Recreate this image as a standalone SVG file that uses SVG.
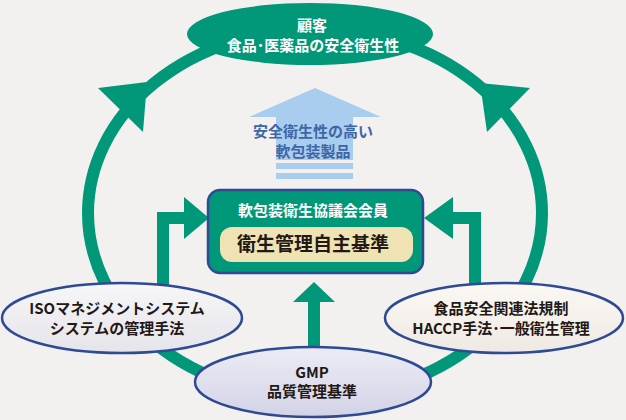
<svg xmlns="http://www.w3.org/2000/svg" width="626" height="420" viewBox="0 0 626 420">
<defs>
<style>
.jp{font-family:"Noto Sans CJK JP","Noto Sans",sans-serif;font-weight:bold;text-anchor:middle}
.wt{fill:#ffffff;font-size:15px}
.dk{fill:#231815;font-size:15px}
.bl{fill:#3d66a5;font-size:15px}
.grn{fill:#009878}
.node{stroke:#2f4a94;stroke-width:2.5}
</style>
<linearGradient id="gIso" x1="0" y1="0" x2="0" y2="1"><stop offset="0" stop-color="#f7f7f8"/><stop offset="1" stop-color="#e4e4ea"/></linearGradient>
<linearGradient id="gHac" x1="0" y1="0" x2="0" y2="1"><stop offset="0" stop-color="#fbf8f3"/><stop offset="1" stop-color="#efe9e3"/></linearGradient>
<linearGradient id="gGmp" x1="0" y1="0" x2="0" y2="1"><stop offset="0" stop-color="#ececf5"/><stop offset="1" stop-color="#d3d3e7"/></linearGradient>
</defs>
<rect width="626" height="420" fill="#f2f1ef"/>
<g id="connectors">
<ellipse cx="315" cy="213" rx="227" ry="184" fill="none" stroke="#009878" stroke-width="12"/>
<polygon class="grn" points="98,88 147,82 143,132"/>
<polygon class="grn" points="480,83 530,88 487,132"/>
<path class="grn" d="M157,300 V212 H185 V224 H169 V300 Z"/>
<polygon class="grn" points="184,197 209,218 184,239"/>
<path class="grn" d="M481,300 V212 H452 V224 H469 V300 Z"/>
<polygon class="grn" points="453,197 424,218 453,239"/>
<rect class="grn" x="308" y="300" width="12" height="60"/>
<polygon class="grn" points="293,302 314,282 335,302"/>
<g fill="#a9cdee">
<polygon points="249,117 315,88 381,117 353,117 353,160 276,160 276,117"/>
<rect x="276" y="163" width="77" height="6"/>
<rect x="276" y="173" width="77" height="6"/>
</g>
<text class="jp bl" x="313" y="137">安全衛生性の高い</text>
<text class="jp bl" x="313" y="157">軟包装製品</text>
</g>
<g id="customer">
<ellipse cx="310" cy="34" rx="123" ry="31" fill="#009878"/>
<text class="jp wt" x="312" y="31">顧客</text>
<text class="jp wt" x="313" y="51">食品･医薬品の安全衛生性</text>
</g>
<g id="council">
<rect class="grn node" x="208" y="190" width="215" height="83" rx="12"/>
<text class="jp wt" x="313" y="216">軟包装衛生協議会会員</text>
<rect x="220" y="227" width="193" height="35" rx="12" fill="#efe3b3"/>
<text class="jp dk" x="313" y="251" style="font-size:19px">衛生管理自主基準</text>
</g>
<g id="iso">
<ellipse class="node" cx="122" cy="318" rx="120" ry="35" fill="url(#gIso)"/>
<text class="jp dk" x="117" y="314">ISOマネジメントシステム</text>
<text class="jp dk" x="117" y="334">システムの管理手法</text>
</g>
<g id="haccp">
<ellipse class="node" cx="504" cy="318" rx="119" ry="35" fill="url(#gHac)"/>
<text class="jp dk" x="501" y="314">食品安全関連法規制</text>
<text class="jp dk" x="501" y="334">HACCP手法･一般衛生管理</text>
</g>
<g id="gmp">
<ellipse class="node" cx="313" cy="382" rx="118" ry="35" fill="url(#gGmp)"/>
<text class="jp dk" x="312" y="378">GMP</text>
<text class="jp dk" x="312" y="397">品質管理基準</text>
</g>
</svg>
